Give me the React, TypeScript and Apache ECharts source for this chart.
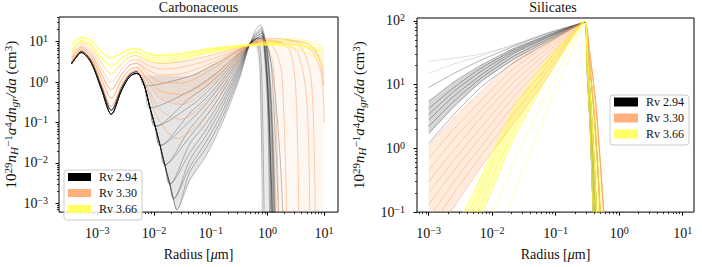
import React, { useEffect, useRef } from 'react';
import * as echarts from 'echarts';

const FONT = 'Liberation Serif';
const TEXT = '#111111';

// ---------- legend ----------
const groupNames = ['Rv 2.94', 'Rv 3.30', 'Rv 3.66'];
const legendSwatchColors = ['#000000', '#ffb07c', '#ffff66'];
const lineColors = ['#000000', '#ff9f5f', '#ffff40'];

// ---------- axis ranges & ticks ----------
const carbXRange = [2.11e-4, 17.6];
const carbYRange = [6.08e-4, 40.7];
const silXRange = [6.55e-4, 15.1];
const silYRange = [0.1, 110.7];
const carbXTicks = [1e-3, 1e-2, 1e-1, 1, 10];
const carbYTicks = [1e-3, 1e-2, 1e-1, 1, 10];
const silXTicks = [1e-3, 1e-2, 1e-1, 1, 10];
const silYTicks = [0.1, 1, 10, 100];
const minorMantissas = [2, 3, 4, 5, 6, 7, 8, 9];
const minorDecades = [-5, -4, -3, -2, -1, 0, 1, 2];

// ---------- Carbonaceous ----------
const carbHeadRadius = [3.5e-4, 4.2e-4, 5.2e-4, 7.8e-4, 1.18e-3, 1.77e-3, 2.65e-3, 3.7e-3, 4.9e-3];
const carbHeadLevels = [
  [2.8, 4.0, 5.4, 3.0, 0.67, 0.16, 0.6, 1.35, 1.63],
  [3.0, 4.3, 5.8, 3.4, 0.8, 0.2, 0.7, 1.5, 1.8],
  [3.1, 4.5, 6.0, 3.6, 0.9, 0.25, 0.8, 1.65, 1.95],
  [3.5, 5.0, 6.6, 4.2, 1.2, 0.4, 1.1, 2.0, 2.3],
  [4.0, 5.6, 7.3, 5.0, 1.6, 0.65, 1.5, 2.6, 2.9],
  [4.6, 6.4, 8.2, 6.0, 2.2, 1.0, 2.0, 3.3, 3.6],
  [5.3, 7.4, 9.3, 7.2, 3.0, 1.6, 2.8, 4.2, 4.5],
  [6.2, 8.6, 10.5, 8.5, 4.0, 2.5, 3.8, 5.2, 5.5],
  [8.0, 11.0, 12.6, 10.5, 5.6, 3.9, 5.2, 6.5, 6.7],
];
const carbBlackEnvelope = [
  [5.6e-3, 1.48], [6.8e-3, 0.8], [8.5e-3, 0.23], [1.05e-2, 0.08], [1.28e-2, 0.027],
  [1.55e-2, 0.009], [1.9e-2, 0.003], [2.2e-2, 1.3e-3], [2.5e-2, 7e-4],
];
const carbBlackHeadIdx = [1, 0, 1, 0, 0, 1, 0, 0, 0, 1, 0, 1, 0, 0];
const carbBlackDepart = [1, 2, 3, 4, 5, 6, 7, 8, 8, 7, 6, 5, 4, 3];
const carbBlackRise = [
  [[0.043, 1.4], [0.085, 2.2], [0.166, 3.6], [0.33, 6.5], [0.49, 8.8]],
  [[0.043, 0.6], [0.085, 1.1], [0.166, 2.3], [0.33, 5.6], [0.49, 8.8]],
  [[0.043, 0.25], [0.085, 0.55], [0.166, 1.5], [0.33, 4.8], [0.49, 8.8]],
  [[0.043, 0.11], [0.085, 0.3], [0.166, 1.0], [0.33, 4.0], [0.49, 8.8]],
  [[0.043, 0.045], [0.085, 0.15], [0.166, 0.6], [0.33, 3.2], [0.49, 8.8]],
  [[0.043, 0.018], [0.085, 0.07], [0.166, 0.35], [0.33, 2.5], [0.49, 8.8]],
  [[0.043, 0.008], [0.085, 0.035], [0.166, 0.2], [0.33, 1.9], [0.49, 8.8]],
  [[0.043, 0.0038], [0.085, 0.016], [0.166, 0.11], [0.33, 1.35], [0.49, 8.8]],
  [[0.043, 0.006], [0.085, 0.025], [0.166, 0.15], [0.33, 1.6], [0.49, 8.8]],
  [[0.043, 0.012], [0.085, 0.05], [0.166, 0.27], [0.33, 2.2], [0.49, 8.8]],
  [[0.043, 0.03], [0.085, 0.1], [0.166, 0.45], [0.33, 2.8], [0.49, 8.8]],
  [[0.043, 0.07], [0.085, 0.22], [0.166, 0.8], [0.33, 3.6], [0.49, 8.8]],
  [[0.043, 0.17], [0.085, 0.42], [0.166, 1.25], [0.33, 4.4], [0.49, 8.8]],
  [[0.043, 0.4], [0.085, 0.8], [0.166, 1.9], [0.33, 5.2], [0.49, 8.8]],
];
const carbBlackCutoff = [
  [[0.62, 14], [0.78, 20], [0.9, 6], [1.05, 0.1], [1.15, 3e-4]],
  [[0.65, 12], [0.8, 14], [0.95, 3], [1.1, 0.05], [1.25, 3e-4]],
  [[0.6, 18], [0.75, 26], [0.85, 10], [1.0, 0.3], [1.1, 3e-4]],
  [[0.65, 11], [0.85, 12], [1.05, 4], [1.25, 0.05], [1.4, 3e-4]],
  [[0.62, 13], [0.8, 16], [1.0, 5], [1.2, 0.1], [1.35, 3e-4]],
  [[0.6, 10], [0.72, 9], [0.8, 1], [0.88, 3e-4]],
  [[0.7, 12], [0.95, 10], [1.3, 1], [1.7, 0.01], [1.9, 3e-4]],
  [[0.62, 15], [0.78, 18], [0.95, 4], [1.12, 0.02], [1.25, 3e-4]],
  [[0.6, 11], [0.76, 15], [0.88, 7], [1.05, 0.3], [1.18, 3e-4]],
  [[0.63, 13], [0.82, 17], [0.98, 5], [1.15, 0.08], [1.28, 3e-4]],
  [[0.58, 9], [0.68, 8], [0.75, 1.5], [0.82, 3e-4]],
  [[0.66, 12], [0.9, 11], [1.15, 3], [1.4, 0.03], [1.6, 3e-4]],
  [[0.61, 16], [0.8, 22], [0.92, 7], [1.08, 0.2], [1.2, 3e-4]],
  [[0.64, 12], [0.84, 13], [1.02, 4], [1.2, 0.06], [1.32, 3e-4]],
];
const carbOrangeHeadIdx = [6, 5, 4, 4, 3, 3, 2, 2];
const carbOrangeRise = [
  [[7.8e-3, 3.4], [1.3e-2, 2.9], [0.03, 3.2], [0.1, 4.6], [0.25, 6.6], [0.49, 8.5]],
  [[7.8e-3, 2.6], [1.3e-2, 2.1], [0.03, 2.3], [0.1, 3.6], [0.25, 5.9], [0.49, 8.5]],
  [[7.8e-3, 2.0], [1.3e-2, 1.5], [0.03, 1.6], [0.1, 2.9], [0.25, 5.5], [0.49, 8.5]],
  [[7.8e-3, 1.6], [1.3e-2, 1.0], [0.03, 0.95], [0.1, 2.0], [0.25, 4.8], [0.49, 8.5]],
  [[7.8e-3, 1.2], [1.3e-2, 0.6], [0.03, 0.5], [0.1, 1.2], [0.25, 4.0], [0.49, 8.5]],
  [[7.8e-3, 1.0], [1.3e-2, 0.38], [0.03, 0.28], [0.1, 0.8], [0.25, 3.3], [0.49, 8.5]],
  [[7.8e-3, 0.7], [1.3e-2, 0.2], [0.03, 0.12], [0.1, 0.45], [0.25, 2.6], [0.49, 8.5]],
  [[7.8e-3, 0.6], [1.2e-2, 0.12], [0.025, 0.04], [0.1, 0.2], [0.25, 2.0], [0.49, 8.5]],
];
const carbOrangeCutoff = [
  [[0.8, 11], [1.5, 10], [2.5, 6], [3.2, 0.5], [3.6, 3e-4]],
  [[0.8, 9], [2, 9], [4, 7], [6, 1], [7, 3e-4]],
  [[0.8, 12], [1.5, 12], [3, 10], [6, 6], [9, 1.5], [10, 0.1]],
  [[0.75, 10], [1.0, 8], [1.3, 2], [1.6, 3e-4]],
  [[0.9, 10], [2, 9], [3.5, 5], [5, 0.3], [5.6, 3e-4]],
  [[0.8, 11], [2, 11], [5, 9], [8, 4], [10, 0.8]],
  [[0.8, 9], [1.3, 7], [1.8, 1.5], [2.2, 3e-4]],
  [[1, 10], [3, 10], [6, 8], [9, 3], [10, 1.5]],
];
const carbYellowHeadIdx = [8, 8, 7, 7, 6, 8, 7];
const carbYellowTail = [
  [[7.8e-3, 5.0], [1.3e-2, 4.6], [0.03, 5.0], [0.085, 6.5], [0.3, 7.8], [0.5, 8.4], [1, 9], [3, 8.5], [10, 6.5]],
  [[7.8e-3, 4.8], [1.3e-2, 4.4], [0.03, 4.8], [0.085, 6.2], [0.5, 8.2], [1, 9.5], [3, 10], [6, 8], [10, 4]],
  [[7.8e-3, 4.0], [1.3e-2, 3.6], [0.03, 4.0], [0.085, 5.5], [0.5, 8], [1.5, 8.5], [4, 8], [10, 5.5]],
  [[7.8e-3, 3.8], [1.3e-2, 3.3], [0.03, 3.8], [0.085, 5.3], [0.5, 8.1], [1.5, 8], [4, 6], [7, 4], [10, 2.5]],
  [[7.8e-3, 3.4], [1.3e-2, 3.0], [0.03, 3.5], [0.085, 5.0], [0.5, 8], [2, 8.5], [6, 6], [10, 2.3]],
  [[7.8e-3, 5.2], [1.3e-2, 4.8], [0.03, 5.2], [0.085, 6.7], [0.5, 8.6], [1, 10], [3, 12], [10, 7]],
  [[7.8e-3, 4.3], [1.3e-2, 4.0], [0.03, 4.4], [0.085, 5.9], [0.5, 8.3], [1.5, 9], [5, 7.5], [10, 3.5]],
];
const carbOrangeCurtain = [[1.2, 9], [10, 6], [10, 6.1e-4], [1.2, 6.1e-4]];
const carbBlackCurtain = [[0.6, 10], [0.8, 14], [1.0, 6], [1.3, 0.3], [1.5, 6.1e-4], [0.85, 6.1e-4], [0.7, 3]];

// ---------- Silicates ----------
const silRadius = [1e-3, 2.5e-3, 6.6e-3, 0.022, 0.074, 0.2, 0.29];
const silBlack = [
  [23, 26, 30, 42, 64, 86, 95],
  [15, 21, 28, 42, 65, 86, 95],
  [9, 15, 24, 40, 63, 85, 95],
  [5.5, 11, 20, 37, 60, 85, 95],
  [4.2, 9, 18, 35, 58, 84, 95],
  [3.4, 7.8, 16, 33, 56, 84, 95],
  [2.8, 6.6, 14, 31, 54, 83, 95],
  [2.2, 5.5, 12.5, 28, 51, 82, 95],
  [1.7, 4.5, 11, 25, 48, 81, 95],
  [1.2, 3.4, 9, 22, 45, 80, 95],
];
const silOrange = [
  [1.1, 3, 7.6, 23, 48, 84, 98],
  [0.7, 2.0, 5.5, 18, 42, 82, 98],
  [0.45, 1.4, 4, 14, 37, 80, 98],
  [0.3, 0.95, 3, 11, 32, 78, 98],
  [0.2, 0.65, 2.1, 8.5, 27, 75, 98],
  [0.13, 0.45, 1.5, 6.5, 23, 72, 98],
  [0.08, 0.3, 1.05, 4.8, 19, 70, 98],
  [0.05, 0.2, 0.75, 3.5, 16, 68, 98],
  [0.03, 0.12, 0.5, 2.5, 13, 65, 98],
];
const silYellow = [
  [0.01, 0.05, 0.35, 4.5, 25, 72, 100],
  [0.005, 0.03, 0.25, 3.5, 22, 70, 100],
  [0.003, 0.02, 0.2, 2.8, 19, 66, 100],
  [0.002, 0.012, 0.13, 2.0, 16, 63, 100],
  [0.001, 0.007, 0.08, 1.4, 13, 60, 100],
  [0.0003, 0.002, 0.03, 0.6, 8, 52, 100],
  [0.0001, 0.0005, 0.008, 0.2, 4, 42, 100],
];
const silDrops = [
  [[0.31, 20], [0.35, 2], [0.38, 0.2], [0.40, 0.05]],
  [[0.32, 25], [0.37, 3], [0.42, 0.3], [0.45, 0.05]],
  [[0.33, 30], [0.40, 4], [0.47, 0.35], [0.52, 0.05]],
  [[0.34, 35], [0.43, 5], [0.52, 0.4], [0.60, 0.05]],
  [[0.315, 22], [0.36, 2.5], [0.40, 0.25], [0.43, 0.05]],
];
const silBlackDrop = [0, 0, 4, 1, 0, 4, 1, 2, 0, 4];
const silOrangeDrop = [2, 3, 1, 2, 3, 3, 2, 1, 3];
const silYellowDrop = [0, 1, 4, 0, 1, 2, 4];
const silPeak = [0.29, 100];

// ---------- helpers ----------
const head = (idx: number) => carbHeadRadius.map((x, j) => [x, carbHeadLevels[idx][j]]);
const silLine = (arr: number[]) => silRadius.map((x, j) => [x, arr[j]]);
const minorTicks = (range: number[]) => {
  const out: number[] = [];
  minorDecades.forEach((e) => minorMantissas.forEach((m) => {
    const v = m * Math.pow(10, e);
    if (v > range[0] && v < range[1]) out.push(v);
  }));
  return out;
};
const powLabel = (v: number) => {
  const e = Math.round(Math.log10(v));
  return '10{sup|' + (e < 0 ? '\u2212' + -e : String(e)) + '}';
};
const supStyle = { fontFamily: FONT, fontSize: 10, lineHeight: 8, verticalAlign: 'top', color: TEXT };
const nameRich = {
  sup: { fontFamily: FONT, fontSize: 11, lineHeight: 8, verticalAlign: 'top', color: TEXT },
  i: { fontFamily: FONT, fontStyle: 'italic', fontSize: 15, lineHeight: 17, color: TEXT },
  isub: { fontFamily: FONT, fontStyle: 'italic', fontSize: 11, lineHeight: 8, verticalAlign: 'bottom', color: TEXT },
};
const xNameRich = {
  i: { fontFamily: FONT, fontStyle: 'italic', fontSize: 14, lineHeight: 16, color: TEXT },
};
const yName = '10{sup|29}{i|n}{isub|H}{sup|\u22121}{i|a}{sup|4}{i|dn}{isub|gr}{i|/da} (cm{sup|3})';

function lineSeries(name: string, data: number[][], axis: number, color: string, opacity: number, smooth: number) {
  return {
    type: 'line', name, data, xAxisIndex: axis, yAxisIndex: axis,
    symbol: 'none', showSymbol: false, smooth, silent: true, z: 2,
    lineStyle: { color, width: 1, opacity }, itemStyle: { color },
  };
}
function polySeries(points: number[][], axis: number, color: string, opacity: number) {
  return {
    type: 'custom', xAxisIndex: axis, yAxisIndex: axis, silent: true, clip: true, z: 1,
    data: points,
    renderItem: (params: any, api: any) => {
      if (params.dataIndex !== 0) return null;
      return {
        type: 'polygon',
        shape: { points: points.map((p) => api.coord(p)) },
        style: { fill: color, opacity },
      };
    },
  };
}
function majorX(gridIndex: number, range: number[], ticks: number[]) {
  return {
    type: 'log', logBase: 10, gridIndex, min: range[0], max: range[1], position: 'bottom',
    axisLine: { show: false }, splitLine: { show: false },
    axisTick: { show: true, length: 3.5, customValues: ticks, lineStyle: { color: '#000', width: 1 } },
    axisLabel: { customValues: ticks, formatter: powLabel, margin: 13, fontFamily: FONT, fontSize: 14, lineHeight: 16, color: TEXT, rich: { sup: supStyle } },
    name: 'Radius [{i|\u03bc}m]', nameLocation: 'middle', nameGap: 29,
    nameTextStyle: { fontFamily: FONT, fontSize: 14, lineHeight: 16, color: TEXT, rich: xNameRich },
  };
}
function majorY(gridIndex: number, range: number[], ticks: number[], nameGap: number, margin: number) {
  return {
    type: 'log', logBase: 10, gridIndex, min: range[0], max: range[1], position: 'left',
    axisLine: { show: false }, splitLine: { show: false },
    axisTick: { show: true, length: 3.5, customValues: ticks, lineStyle: { color: '#000', width: 1 } },
    axisLabel: { customValues: ticks, formatter: powLabel, margin, fontFamily: FONT, fontSize: 14, lineHeight: 16, color: TEXT, rich: { sup: supStyle } },
    name: yName, nameLocation: 'middle', nameGap, nameRotate: 90,
    nameTextStyle: { fontFamily: FONT, fontSize: 15, lineHeight: 17, color: TEXT, rich: nameRich },
  };
}
function minorAxis(gridIndex: number, range: number[], position: string) {
  return {
    type: 'log', logBase: 10, gridIndex, min: range[0], max: range[1], position,
    axisLine: { show: false }, splitLine: { show: false }, axisLabel: { show: false },
    axisTick: { show: true, length: 2, customValues: minorTicks(range), lineStyle: { color: '#000', width: 0.8 } },
  };
}
function legendFor(left: number, top: number, w: number, h: number) {
  return {
    left, top, orient: 'vertical', icon: 'rect', itemWidth: w, itemHeight: h, itemGap: 4,
    padding: [1, 5, 5, 4], borderColor: '#cccccc', borderWidth: 1, borderRadius: 3,
    backgroundColor: 'rgba(255,255,255,0.85)', selectedMode: false, z: 10,
    textStyle: { fontFamily: FONT, fontSize: 12, lineHeight: 12, color: TEXT, padding: [0, 0, 0, 3] },
    data: groupNames.map((name, i) => ({ name, itemStyle: { color: legendSwatchColors[i], opacity: 1, borderWidth: 0 } })),
  };
}

function buildOption() {
  const series: any[] = [];
  // ---- left polygons ----
  const fan = [...carbBlackEnvelope, ...carbBlackRise[7], ...carbBlackRise[0].slice(0, 4).reverse()];
  series.push(polySeries(fan, 0, '#000000', 0.1));
  const orangeUpper = [[4.9e-3, carbHeadLevels[6][8]], ...carbOrangeRise[0]];
  const orangeLower = [[4.9e-3, carbHeadLevels[3][8]], ...carbOrangeRise[5]];
  series.push(polySeries([...orangeUpper, ...orangeLower.slice(0, -1).reverse()], 0, lineColors[1], 0.15));
  series.push(polySeries(carbOrangeCurtain, 0, lineColors[1], 0.08));
  series.push(polySeries(carbBlackCurtain, 0, '#000000', 0.08));
  // ---- left lines ----
  carbBlackHeadIdx.forEach((h, i) => {
    const data = [...head(h), ...carbBlackEnvelope.slice(0, carbBlackDepart[i] + 1), ...carbBlackRise[i], ...carbBlackCutoff[i]];
    series.push(lineSeries(groupNames[0], data, 0, lineColors[0], 0.26, 0.3));
  });
  carbOrangeHeadIdx.forEach((h, i) => {
    const data = [...head(h), ...carbOrangeRise[i], ...carbOrangeCutoff[i]];
    series.push(lineSeries(groupNames[1], data, 0, lineColors[1], 0.5, 0.3));
  });
  carbYellowHeadIdx.forEach((h, i) => {
    const data = [...head(h), ...carbYellowTail[i]];
    series.push(lineSeries(groupNames[2], data, 0, lineColors[2], 0.6, 0.3));
  });
  // ---- right polygons ----
  series.push(polySeries([...silLine(silBlack[3]), ...silLine(silBlack[8]).reverse()], 2, '#000000', 0.16));
  series.push(polySeries([...silLine(silOrange[0]), ...silLine(silOrange[8]).reverse()], 2, lineColors[1], 0.2));
  series.push(polySeries([...silLine(silYellow[0]), ...silLine(silYellow[4]).reverse()], 2, lineColors[2], 0.35));
  series.push(polySeries([silPeak, ...silDrops[0], ...silDrops[3].slice().reverse()], 2, lineColors[2], 0.45));
  // ---- right lines ----
  silBlack.forEach((arr, i) => {
    series.push(lineSeries(groupNames[0], [...silLine(arr), ...silDrops[silBlackDrop[i]]], 2, lineColors[0], i < 2 ? 0.12 : 0.3, 0.2));
  });
  silOrange.forEach((arr, i) => {
    series.push(lineSeries(groupNames[1], [...silLine(arr), ...silDrops[silOrangeDrop[i]]], 2, lineColors[1], 0.45, 0.2));
  });
  silYellow.forEach((arr, i) => {
    series.push(lineSeries(groupNames[2], [...silLine(arr), ...silDrops[silYellowDrop[i]]], 2, lineColors[2], i > 4 ? 0.35 : 0.6, 0.2));
  });

  return {
    animation: false,
    backgroundColor: '#ffffff',
    textStyle: { fontFamily: FONT },
    grid: [
      { left: 59, top: 17, width: 279, height: 208, show: true, borderColor: '#000', borderWidth: 1, backgroundColor: 'transparent', containLabel: false },
      { left: 417, top: 18, width: 277, height: 207, show: true, borderColor: '#000', borderWidth: 1, backgroundColor: 'transparent', containLabel: false },
    ],
    xAxis: [
      majorX(0, carbXRange, carbXTicks),
      minorAxis(0, carbXRange, 'bottom'),
      majorX(1, silXRange, silXTicks),
      minorAxis(1, silXRange, 'bottom'),
    ],
    yAxis: [
      majorY(0, carbYRange, carbYTicks, 39, 11),
      minorAxis(0, carbYRange, 'left'),
      majorY(1, silYRange, silYTicks, 50, 12),
      minorAxis(1, silYRange, 'left'),
    ],
    legend: [legendFor(64, 170, 23, 8), legendFor(610, 95, 24, 9)],
    graphic: [
      { type: 'text', x: 198.5, y: 0, style: { text: 'Carbonaceous', x: 0, y: 0, align: 'center', verticalAlign: 'top', fontFamily: FONT, fontSize: 14, fill: TEXT } },
      { type: 'text', x: 553, y: 0, style: { text: 'Silicates', x: 0, y: 0, align: 'center', verticalAlign: 'top', fontFamily: FONT, fontSize: 14, fill: TEXT } },
    ],
    series,
  };
}

export default function App() {
  const ref = useRef<HTMLDivElement>(null);
  useEffect(() => {
    const chart = echarts.init(ref.current!, undefined, { renderer: 'svg' });
    chart.setOption(buildOption() as any);
    return () => chart.dispose();
  }, []);
  return <div ref={ref} style={{ position: 'fixed', left: 0, top: 0, width: 702, height: 267 }} />;
}
